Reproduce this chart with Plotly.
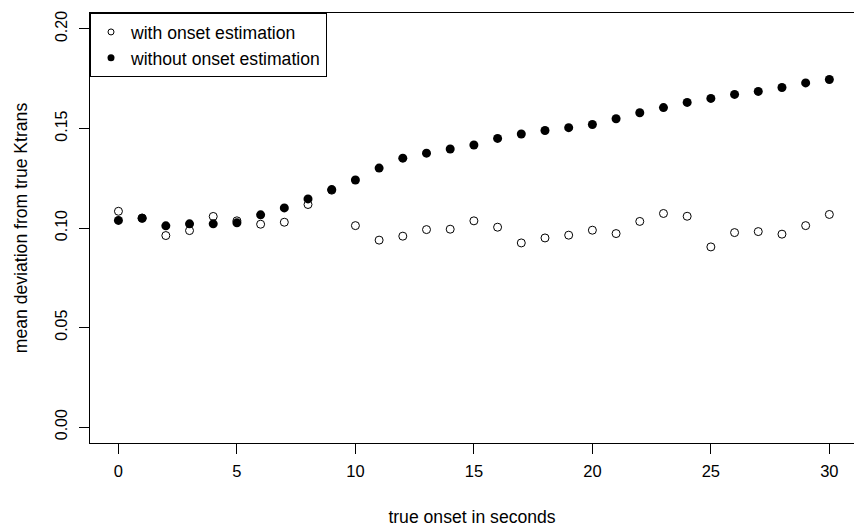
import plotly.graph_objects as go

onset = list(range(0, 31))
with_est = [0.1084, 0.1050, 0.0962, 0.0987, 0.1058, 0.1036, 0.1019, 0.1029, 0.1118, 0.1190,
            0.1012, 0.0939, 0.0959, 0.0992, 0.0994, 0.1036, 0.1004, 0.0925, 0.0950, 0.0964,
            0.0989, 0.0972, 0.1033, 0.1073, 0.1059, 0.0905, 0.0977, 0.0982, 0.0969, 0.1012,
            0.1068]
without_est = [0.1038, 0.1049, 0.1011, 0.1021, 0.1021, 0.1026, 0.1066, 0.1101, 0.1146, 0.1193,
               0.1241, 0.1301, 0.1351, 0.1376, 0.1397, 0.1417, 0.1450, 0.1472, 0.1490, 0.1504,
               0.1520, 0.1549, 0.1579, 0.1605, 0.1631, 0.1651, 0.1671, 0.1686, 0.1706, 0.1729,
               0.1746]
x_ticks = [0, 5, 10, 15, 20, 25, 30]
y_ticks = [0.00, 0.05, 0.10, 0.15, 0.20]
series_names = ["with onset estimation", "without onset estimation"]

FONT = "Liberation Sans, Arial, Helvetica, sans-serif"

open_marker = dict(symbol="circle-open", color="black", line=dict(width=1, color="black"))
filled_marker = dict(symbol="circle", color="black")

fig = go.Figure()
fig.add_trace(go.Scatter(x=onset, y=with_est, mode="markers", name=series_names[0],
                         marker=dict(size=8, **open_marker), showlegend=False))
fig.add_trace(go.Scatter(x=onset, y=without_est, mode="markers", name=series_names[1],
                         marker=dict(size=9, **filled_marker), showlegend=False))
# legend entries (smaller symbols, like the reference legend)
fig.add_trace(go.Scatter(x=[None], y=[None], mode="markers", name=series_names[0],
                         marker=dict(size=6, **open_marker)))
fig.add_trace(go.Scatter(x=[None], y=[None], mode="markers", name=series_names[1],
                         marker=dict(size=7, **filled_marker)))

fig.update_layout(
    width=854, height=527,
    margin=dict(l=90, r=0, t=13, b=84),
    paper_bgcolor="white", plot_bgcolor="white",
    font=dict(family=FONT, size=16, color="black"),
    showlegend=True,
    legend=dict(
        x=0, y=1, xanchor="left", yanchor="top",
        bordercolor="black", borderwidth=1, bgcolor="white",
        font=dict(family=FONT, size=17.6, color="black"),
        itemsizing="trace", tracegroupgap=0,
    ),
    xaxis=dict(
        range=[-1.2, 31.04], tickvals=x_ticks, ticktext=[str(v) for v in x_ticks],
        ticks="outside", ticklen=10, tickcolor="black", tickwidth=1,
        showline=True, linecolor="black", linewidth=1, mirror=True,
        showgrid=False, zeroline=False,
        title=dict(text="true onset in seconds", font=dict(size=17.6), standoff=34),
        tickfont=dict(size=16.5), ticklabelstandoff=3,
    ),
    yaxis=dict(
        range=[-0.008, 0.208], tickvals=y_ticks, ticktext=[f"{v:.2f}" for v in y_ticks],
        ticks="outside", ticklen=10, tickcolor="black", tickwidth=1, tickangle=-90,
        showline=True, linecolor="black", linewidth=1, mirror=False,
        showgrid=False, zeroline=False,
        title=dict(text="mean deviation from true Ktrans", font=dict(size=17.6), standoff=20),
        tickfont=dict(size=16), ticklabelstandoff=6,
    ),
)

fig.write_html("out.html", config={"displayModeBar": False},
               post_script="document.body.style.margin='0';document.body.style.overflow='hidden';")
